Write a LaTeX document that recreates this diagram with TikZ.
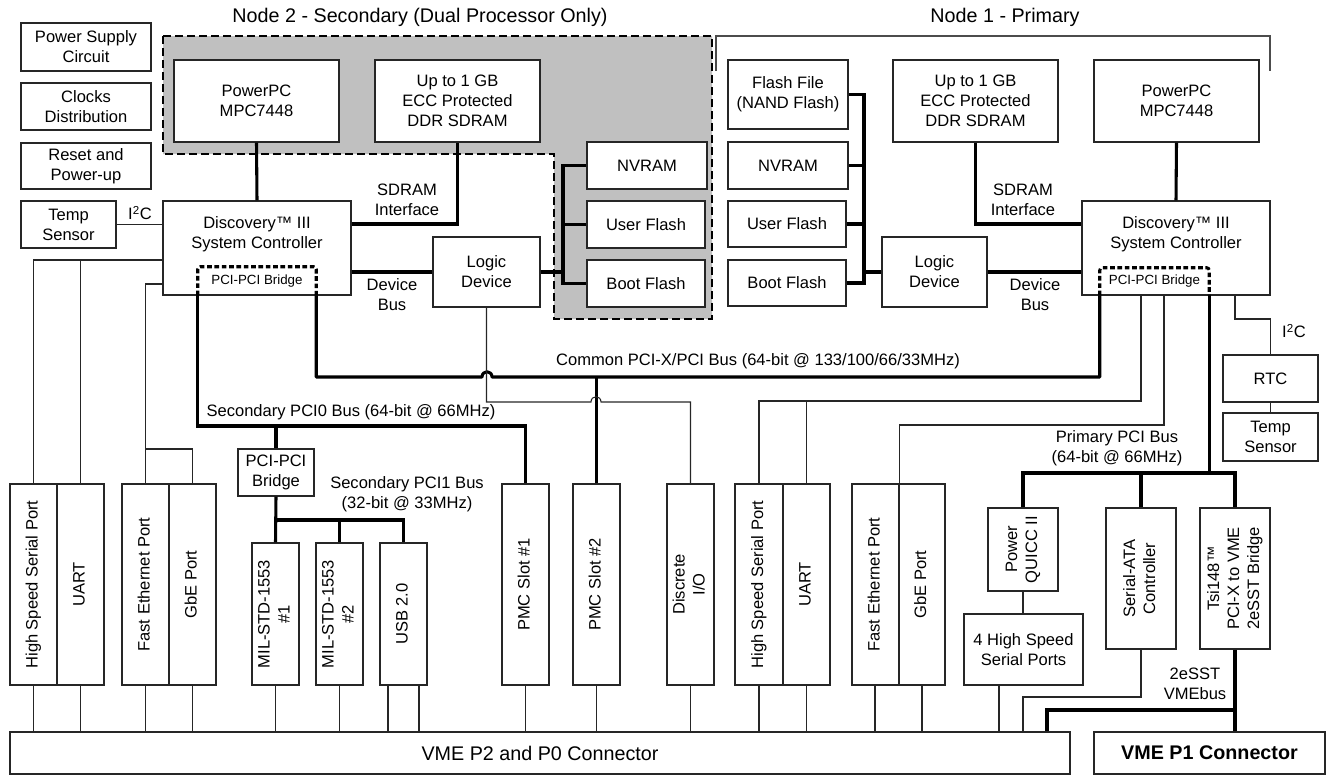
\documentclass[tikz,border=0pt]{standalone}
\usepackage{fontspec}
\setmainfont{Liberation Sans}
\usepackage{graphicx}
\definecolor{shade}{RGB}{192,192,192}
\newcommand\bodyfont{\fontsize{12.4}{15}\selectfont}
\newcommand\bigfont{\fontsize{14.8}{18}\selectfont}
\newcommand\smallfont{\fontsize{10}{12}\selectfont}
\newcommand\vt[1]{\rotatebox{90}{\begin{tabular}{@{}c@{}}#1\end{tabular}}}
\newcommand\bx[7][]{\node[box,#1,minimum width={(#5-#3)*0.75pt},minimum height={(#6-#4)*0.75pt}] (#2) at ({(#3+#5)/2},{(#4+#6)/2}) {#7};}
\tikzset{
  box/.style={draw=black!85,line width=1.05pt,fill=white,inner sep=0pt,align=center,font=\bodyfont},
  thinln/.style={draw=black!85,line width=0.8pt},
  thickln/.style={draw=black,line width=2.3pt},
  lbl/.style={inner sep=0pt,align=center,font=\bodyfont},
  brdash/.style={draw=black,line width=2.3pt,dash pattern=on 3.5pt off 2pt,rounded corners=2pt},
}
\begin{document}
\begin{tikzpicture}[x=0.75pt,y=-0.75pt]
\useasboundingbox (0,0) rectangle (1332,775);
% shaded node 2 region
\draw[fill=shade,line width=2pt,dash pattern=on 6pt off 3pt] (163,36) -- (712,36) -- (712,319) -- (554,319) -- (554,154) -- (163,154) -- cycle;
% node 1 bracket
\draw[draw=black!70,line width=1pt] (716,71) -- (716,36) -- (1270,36) -- (1270,71);
\node[lbl,font=\bigfont] (title2) at (420,17) {Node 2 - Secondary (Dual Processor Only)};
\node[lbl,font=\bigfont] (title1) at (1005,17) {Node 1 - Primary};

% left column
\bx{ps}{21}{23}{151}{71}{Power Supply\\Circuit}
\bx{clk}{21}{83}{151}{130}{Clocks\\Distribution}
\bx{rst}{21}{143}{151}{189}{Reset and\\Power-up}
\bx{ts2}{21}{201}{116}{248}{Temp\\Sensor}

% node 2
\bx{ppc2}{174}{60}{339}{142}{PowerPC\\MPC7448}
\bx{mem2}{375}{60}{540}{142}{Up to 1 GB\\ECC Protected\\DDR SDRAM}
\bx{disc2}{163}{201}{351}{295}{}
\node[lbl] (disc2t) at (257,234) {Discovery™ III\\System Controller};
\node[inner sep=0pt,minimum width={118*0.75pt},minimum height={28*0.75pt}] (br2) at (257,281) {};
\draw[brdash] (br2.south west) -- (br2.north west) -- (br2.north east) -- (br2.south east);
\node[lbl,font=\smallfont] (br2t) at (br2.center) {PCI-PCI Bridge};
\bx{ld2}{433}{237}{540}{307}{Logic\\Device}
\bx{nv2}{587}{142}{707}{189}{NVRAM}
\bx{uf2}{587}{201}{705}{248}{User Flash}
\bx{bf2}{587}{260}{705}{307}{Boot Flash}
\coordinate (fb2) at (563,0);

% node 1
\bx{ff1}{728}{60}{848}{129}{Flash File\\(NAND Flash)}
\bx{nv1}{728}{142}{848}{189}{NVRAM}
\bx{uf1}{728}{201}{846}{247}{User Flash}
\bx{bf1}{728}{260}{846}{306}{Boot Flash}
\bx{ld1}{882}{237}{987}{307}{Logic\\Device}
\bx{mem1}{893}{60}{1058}{142}{Up to 1 GB\\ECC Protected\\DDR SDRAM}
\bx{ppc1}{1094}{60}{1259}{142}{PowerPC\\MPC7448}
\bx{disc1}{1082}{201}{1270}{295}{}
\node[lbl] (disc1t) at (1176,234) {Discovery™ III\\System Controller};
\node[inner sep=0pt,minimum width={109*0.75pt},minimum height={27*0.75pt}] (br1) at (1154.5,281.5) {};
\draw[brdash] (br1.south west) -- (br1.north west) -- (br1.north east) -- (br1.south east);
\node[lbl,font=\smallfont] (br1t) at (br1.center) {PCI-PCI Bridge};
\bx{rtc}{1223}{355}{1318}{402}{RTC}
\bx{ts1}{1223}{413}{1318}{461}{Temp\\Sensor}
\coordinate (fb1) at (864,0);

% bottom row
\bx{hssp2}{10}{484}{57}{685}{\vt{High Speed Serial Port}}
\bx{uart2}{57}{484}{104}{685}{\vt{UART}}
\bx{fe2}{122}{484}{169}{685}{\vt{Fast Ethernet Port}}
\bx{gbe2}{169}{484}{216}{685}{\vt{GbE Port}}
\bx{pbr}{238}{449}{314}{496}{PCI-PCI\\Bridge}
\bx{mil1}{252}{543}{299}{685}{\vt{MIL-STD-1553\\\#1}}
\bx{mil2}{316}{543}{363}{685}{\vt{MIL-STD-1553\\\#2}}
\bx{usb}{380}{543}{427}{685}{\vt{USB 2.0}}
\bx{pmc1}{502}{484}{549}{685}{\vt{PMC Slot \#1}}
\bx{pmc2}{573}{484}{620}{685}{\vt{PMC Slot \#2}}
\bx{dio}{667}{484}{714}{685}{\vt{Discrete\\I/O}}
\bx{hssp1}{735}{484}{783}{685}{\vt{High Speed Serial Port}}
\bx{uart1}{783}{484}{830}{685}{\vt{UART}}
\bx{fe1}{852}{484}{899}{685}{\vt{Fast Ethernet Port}}
\bx{gbe1}{899}{484}{945}{685}{\vt{GbE Port}}
\bx{pq}{988}{508}{1058}{591}{\vt{Power\\QUICC II}}
\bx{hs4}{964}{614}{1083}{685}{4 High Speed\\Serial Ports}
\bx{sata}{1106}{508}{1176}{649}{\vt{Serial-ATA\\Controller}}
\bx{tsi}{1200}{508}{1270}{649}{\vt{Tsi148™\\PCI-X to VME\\2eSST Bridge}}
\bx[font=\bigfont]{vme2}{10}{732}{1070}{774}{VME P2 and P0 Connector}
\bx[font=\bigfont\bfseries]{vme1}{1094}{732}{1325}{774}{VME P1 Connector}

% ---- connectors node 2
\draw[thickln] (ppc2.south) -- (disc2.north);
\draw[thickln] (disc2.east |- 0,224) -| (mem2.south);
\draw[thickln] (disc2.east |- 0,272) -- (ld2.west |- 0,272);
\draw[thinln] (ts2.east) -- (ts2.east -| disc2.west);
\draw[thickln] (ld2.east |- 0,272) -- (fb2 |- 0,272);
\draw[thickln] (nv2.west) -| (fb2 |- bf2.west) -- (bf2.west);
\draw[thickln] (uf2.west) -- (uf2.west -| fb2);
\draw[thinln] (disc2.west |- 0,260) -| (hssp2.north);
\draw[thinln] (uart2.north) -- (uart2.north |- 0,260);
\draw[thinln] (disc2.west |- 0,284) -| (fe2.north);
\draw[thinln] (fe2.north |- 0,449) -| (gbe2.north);
\draw[thickln] (br2.south west) |- (pmc1.north |- 0,426) -- (pmc1.north);
\draw[thickln] (pbr.north |- 0,426) -- (pbr.north);
\draw[thickln] (pbr.south) -- (mil1.north);
\draw[thickln] (mil1.north |- 0,520) -| (usb.north);
\draw[thickln] (mil2.north) -- (mil2.north |- 0,520);
% common bus with hop
\draw[thickln,line join=round] (br2.south east) |- (482,377) .. controls (482,370) and (492,370) .. (492,377) -- (br1.south west |- 0,377) -- (br1.south west);
\draw[thickln] (pmc2.north) -- (pmc2.north |- 0,377);
\draw[thinln] (ld2.south) |- (591,402) .. controls (591,395) and (601,395) .. (601,402) -| (dio.north);

% ---- connectors node 1
\draw[thickln] (ff1.east) -| (fb1 |- bf1.east) -- (bf1.east);
\draw[thickln] (nv1.east) -- (nv1.east -| fb1);
\draw[thickln] (uf1.east) -- (uf1.east -| fb1);
\draw[thickln] (fb1 |- 0,272) -- (ld1.west |- 0,272);
\draw[thickln] (ld1.east |- 0,272) -- (disc1.west |- 0,272);
\draw[thickln] (mem1.south) |- (disc1.west |- 0,224);
\draw[thickln] (ppc1.south) -- (disc1.north);
\draw[thickln] (br1.south east) -- (br1.south east |- 0,473);
\draw[thickln] (pq.north) |- (tsi.north |- 0,473) -- (tsi.north);
\draw[thickln] (sata.north) -- (sata.north |- 0,473);
\draw[thinln] (sata.north |- disc1.south) |- (hssp1.north |- 0,401) -- (hssp1.north);
\draw[thinln] (uart1.north) -- (uart1.north |- 0,401);
\draw[thinln] (1164,0 |- disc1.south) |- (fe1.north east |- 0,425) -- (fe1.north east);
\draw[thinln] (tsi.north |- disc1.south) |- (rtc.north |- 0,319) -- (rtc.north);
\draw[thinln] (rtc.south) -- (ts1.north);
\draw[thinln] (pq.south) -- (pq.south |- hs4.north);

% ---- to backplane
\foreach \n in {hssp2,uart2,fe2,gbe2,mil1,mil2,pmc1,pmc2,dio,hssp1,uart1}
  \draw[thinln] (\n.south) -- (\n.south |- vme2.north);
\draw[thinln] (388,0 |- usb.south) -- (388,0 |- vme2.north);
\draw[thinln] (419,0 |- usb.south) -- (419,0 |- vme2.north);
\draw[thinln] (875,0 |- fe1.south) -- (875,0 |- vme2.north);
\draw[thinln] (922,0 |- gbe1.south) -- (922,0 |- vme2.north);
\draw[thinln] (999,0 |- hs4.south) -- (999,0 |- vme2.north);
\draw[thinln] (sata.south) |- (1023,697) -- (1023,0 |- vme2.north);
\draw[thickln] (tsi.south) -- (tsi.south |- vme1.north);
\draw[thickln] (tsi.south |- 0,710) -| (1047,0 |- vme2.north);

% ---- labels
\node[lbl] (i2c2) at (140,213) {I\textsuperscript{2}C};
\node[lbl] (i2c1) at (1294,331) {I\textsuperscript{2}C};
\node[lbl] (sd2) at (407,200) {SDRAM\\Interface};
\node[lbl] (sd1) at (1023,200) {SDRAM\\Interface};
\node[lbl] (db2) at (392,295) {Device\\Bus};
\node[lbl] (db1) at (1035,295) {Device\\Bus};
\node[lbl] (cbus) at (758,361) {Common PCI-X/PCI Bus (64-bit @ 133/100/66/33MHz)};
\node[lbl] (pci0) at (351,412) {Secondary PCI0 Bus (64-bit @ 66MHz)};
\node[lbl] (pci1) at (407,494) {Secondary PCI1 Bus\\(32-bit @ 33MHz)};
\node[lbl] (ppci) at (1117,448) {Primary PCI Bus\\(64-bit @ 66MHz)};
\node[lbl] (vmeb) at (1195,684) {2eSST\\VMEbus};
\end{tikzpicture}
\end{document}
